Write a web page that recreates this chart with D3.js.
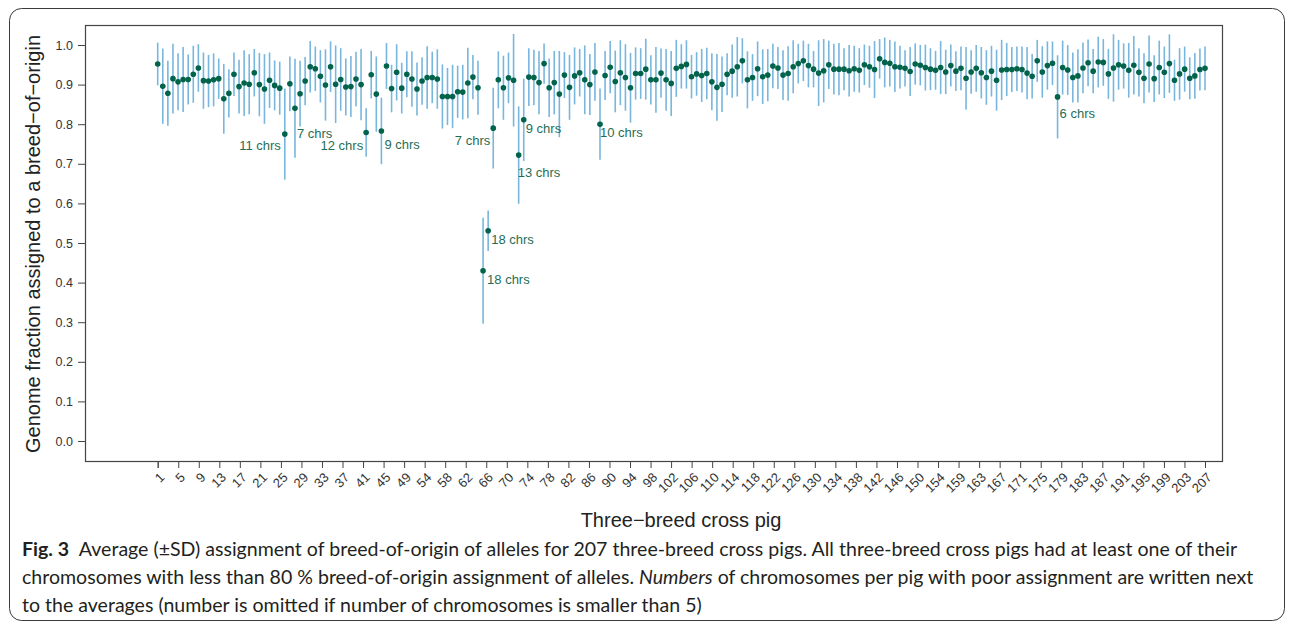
<!DOCTYPE html>
<html><head><meta charset="utf-8">
<script src="https://cdn.jsdelivr.net/npm/d3@7"></script>
<style>
html,body{margin:0;padding:0;background:#fff;}
svg{display:block;}
</style></head>
<body>
<svg id="chart" width="1293" height="624"></svg>
<script>
const means = [0.952,0.896,0.878,0.915,0.907,0.913,0.913,0.926,0.942,0.910,
0.909,0.912,0.915,0.864,0.878,0.926,0.895,0.904,0.901,0.930,
0.900,0.889,0.911,0.898,0.891,0.775,0.902,0.840,0.877,0.909,
0.945,0.940,0.921,0.899,0.945,0.901,0.913,0.894,0.895,0.914,
0.900,0.779,0.925,0.876,0.783,0.947,0.890,0.931,0.891,0.926,
0.914,0.889,0.909,0.918,0.918,0.914,0.870,0.870,0.870,0.882,
0.881,0.904,0.919,0.892,0.430,0.531,0.790,0.912,0.892,0.917,
0.911,0.722,0.811,0.919,0.918,0.905,0.953,0.892,0.905,0.876,
0.924,0.893,0.922,0.930,0.912,0.900,0.932,0.800,0.923,0.944,
0.908,0.930,0.918,0.892,0.928,0.928,0.939,0.912,0.912,0.929,
0.912,0.903,0.941,0.946,0.951,0.920,0.927,0.923,0.928,0.907,
0.893,0.901,0.926,0.934,0.945,0.960,0.912,0.918,0.940,0.920,
0.924,0.947,0.942,0.924,0.928,0.945,0.953,0.960,0.948,0.939,
0.929,0.935,0.950,0.939,0.939,0.939,0.935,0.940,0.936,0.950,
0.945,0.938,0.965,0.956,0.954,0.945,0.944,0.941,0.933,0.952,
0.949,0.943,0.939,0.936,0.943,0.932,0.948,0.934,0.941,0.916,
0.932,0.941,0.930,0.918,0.934,0.911,0.937,0.938,0.938,0.940,
0.938,0.929,0.921,0.960,0.932,0.948,0.954,0.869,0.943,0.937,
0.918,0.922,0.942,0.955,0.934,0.957,0.956,0.927,0.942,0.950,
0.947,0.936,0.949,0.931,0.916,0.952,0.915,0.943,0.931,0.953,
0.911,0.927,0.939,0.916,0.922,0.938,0.941];

const sds = [0.054,0.095,0.082,0.088,0.072,0.082,0.063,0.072,0.060,0.071,
0.066,0.067,0.051,0.088,0.061,0.055,0.068,0.083,0.076,0.060,
0.080,0.088,0.070,0.063,0.067,0.115,0.069,0.125,0.083,0.061,
0.065,0.056,0.066,0.090,0.064,0.098,0.079,0.072,0.077,0.069,
0.090,0.061,0.060,0.095,0.084,0.058,0.060,0.071,0.064,0.058,
0.070,0.067,0.060,0.079,0.065,0.075,0.081,0.072,0.080,0.066,
0.069,0.089,0.056,0.068,0.134,0.051,0.102,0.072,0.081,0.064,
0.117,0.123,0.104,0.073,0.070,0.080,0.051,0.074,0.080,0.109,
0.058,0.082,0.072,0.060,0.087,0.077,0.073,0.090,0.062,0.066,
0.078,0.082,0.084,0.088,0.066,0.064,0.077,0.062,0.083,0.062,
0.078,0.082,0.072,0.056,0.061,0.055,0.055,0.067,0.065,0.072,
0.084,0.070,0.053,0.067,0.075,0.057,0.072,0.059,0.069,0.069,
0.066,0.056,0.053,0.063,0.069,0.067,0.050,0.051,0.055,0.046,
0.083,0.080,0.061,0.064,0.066,0.053,0.065,0.058,0.056,0.051,
0.053,0.072,0.050,0.063,0.059,0.064,0.054,0.046,0.062,0.052,
0.051,0.058,0.053,0.049,0.067,0.056,0.053,0.050,0.055,0.079,
0.055,0.059,0.065,0.069,0.064,0.077,0.076,0.067,0.057,0.056,
0.058,0.066,0.056,0.053,0.065,0.061,0.055,0.105,0.068,0.063,
0.063,0.067,0.064,0.059,0.056,0.064,0.059,0.063,0.085,0.063,
0.057,0.069,0.074,0.061,0.063,0.072,0.059,0.068,0.065,0.074,
0.052,0.065,0.057,0.053,0.058,0.053,0.055];

const xTickLabels = ["1","5","9","13","17","21","25","29","33","37","41","45","49","54","58","62","66","70","74","78","82","86","90","94","98","102","106","110","114","118","122","126","130","134","138","142","146","150","154","159","163","167","171","175","179","183","187","191","195","199","203","207"];
const yTickLabels = ["0.0","0.1","0.2","0.3","0.4","0.5","0.6","0.7","0.8","0.9","1.0"];

const labelPigs  = [26, 28, 42, 45, 65, 66, 67, 72, 73, 88, 178];
const labelTexts = ["11 chrs","7 chrs","12 chrs","9 chrs","18 chrs","18 chrs","7 chrs","13 chrs","9 chrs","10 chrs","6 chrs"];

// label placement (layout only)
const labelSide = ["end","start","end","start","start","start","end","start","start","start","start"];
const labelDx   = [-4, 2, -3, 3, 4, 3, -3, -1, 2, 0, 2];
const labelDy   = [11, 25, 12.5, 14, 9, 9, 12, 17, 9, 8, 17];

const svg = d3.select("#chart");
const nPigs = means.length;
const data = means.map((m, i) => ({pig: i + 1, mean: m, sd: sds[i]}));

const x = d3.scaleLinear().domain([1, nPigs]).range([157.7, 1205]);
const y = d3.scaleLinear().domain([0, 1]).range([441, 45]);

const plot = {left: 85, top: 25, right: 1222, bottom: 461};

// outer frame
svg.append("rect").attr("x", 9.5).attr("y", 8.5).attr("width", 1275).attr("height", 612)
  .attr("rx", 12).attr("fill", "none").attr("stroke", "#3a3a3a").attr("stroke-width", 1);

// plot box
svg.append("rect").attr("x", plot.left + 0.5).attr("y", plot.top + 0.5)
  .attr("width", plot.right - plot.left).attr("height", plot.bottom - plot.top)
  .attr("fill", "none").attr("stroke", "#444").attr("stroke-width", 1.2);

// y axis
const yTickVals = yTickLabels.map(s => +s);
const yAxis = d3.axisLeft(y).tickValues(yTickVals).tickSize(7).tickPadding(5)
  .tickFormat((d, i) => yTickLabels[i]);
const yg = svg.append("g").attr("transform", `translate(${plot.left},0)`).call(yAxis);
yg.select(".domain").remove();
yg.selectAll("line").attr("stroke", "#444");
yg.selectAll("text").attr("font-family", "Liberation Sans, Arial, sans-serif").attr("font-size", 12.5).attr("fill", "#333");

// x axis
const xTickVals = xTickLabels.map((s, i) => 1 + i * (nPigs - 1) / (xTickLabels.length - 1));
const xAxis = d3.axisBottom(x).tickValues(xTickVals).tickSize(7).tickFormat((d, i) => xTickLabels[i]);
const xg = svg.append("g").attr("transform", `translate(0,${plot.bottom})`).call(xAxis);
xg.select(".domain").attr("stroke", "#444");
xg.selectAll("line").attr("stroke", "#444");
xg.selectAll("text")
  .attr("font-family", "Liberation Sans, Arial, sans-serif").attr("font-size", 13).attr("fill", "#333")
  .attr("text-anchor", "end").attr("dy", null).attr("y", null)
  .attr("transform", "translate(4,14) rotate(-45)")
  .attr("dominant-baseline", "central");

// error bars
svg.append("g").selectAll("line").data(data).join("line")
  .attr("x1", d => x(d.pig)).attr("x2", d => x(d.pig))
  .attr("y1", d => y(d.mean + d.sd)).attr("y2", d => y(d.mean - d.sd))
  .attr("stroke", "#79b6dd").attr("stroke-width", 1.6);

// points
svg.append("g").selectAll("circle").data(data).join("circle")
  .attr("cx", d => x(d.pig)).attr("cy", d => y(d.mean)).attr("r", 2.8)
  .attr("fill", "#00634a");

// chromosome count labels
svg.append("g").selectAll("text").data(labelPigs).join("text")
  .attr("x", (p, i) => x(p) + labelDx[i])
  .attr("y", (p, i) => y(means[p - 1]) + labelDy[i])
  .attr("text-anchor", (p, i) => labelSide[i])
  .attr("dominant-baseline", "central")
  .attr("font-family", "Liberation Sans, Arial, sans-serif").attr("font-size", 13)
  .attr("fill", "#1f6e55")
  .text((p, i) => labelTexts[i]);

// axis titles
svg.append("text").attr("transform", "translate(33,244) rotate(-90)")
  .attr("text-anchor", "middle").attr("dominant-baseline", "central")
  .attr("font-family", "Liberation Sans, Arial, sans-serif").attr("font-size", 20).attr("fill", "#222")
  .text("Genome fraction assigned to a breed\u2212of\u2212origin");

svg.append("text").attr("x", 681).attr("y", 520)
  .attr("text-anchor", "middle").attr("dominant-baseline", "central")
  .attr("font-family", "Liberation Sans, Arial, sans-serif").attr("font-size", 20).attr("fill", "#222")
  .text("Three\u2212breed cross pig");

// caption
const capFont = "Lato, 'Open Sans', sans-serif";
const cap = svg.append("g").attr("font-family", capFont).attr("fill", "#231f20");
const l1 = cap.append("text").attr("x", 22).attr("y", 556).attr("font-size", 17);
l1.append("tspan").attr("font-weight", "bold").text("Fig. 3");
l1.append("tspan").text("\u2002Average (\u00B1SD) assignment of breed-of-origin of alleles for 207 three-breed cross pigs. All three-breed cross pigs had at least one of their");
const l2 = cap.append("text").attr("x", 22).attr("y", 584).attr("font-size", 17);
l2.append("tspan").text("chromosomes with less than 80\u00A0% breed-of-origin assignment of alleles. ");
l2.append("tspan").attr("font-style", "italic").text("Numbers");
l2.append("tspan").text(" of chromosomes per pig with poor assignment are written next");
const l3 = cap.append("text").attr("x", 22).attr("y", 612).attr("font-size", 17)
  .text("to the averages (number is omitted if number of chromosomes is smaller than 5)");
// fit caption size to the reference line width
const w1 = l1.node().getComputedTextLength();
const fs = 17 * (1216 / w1);
[l1, l2, l3].forEach(t => t.attr("font-size", fs));
</script>
</body></html>
